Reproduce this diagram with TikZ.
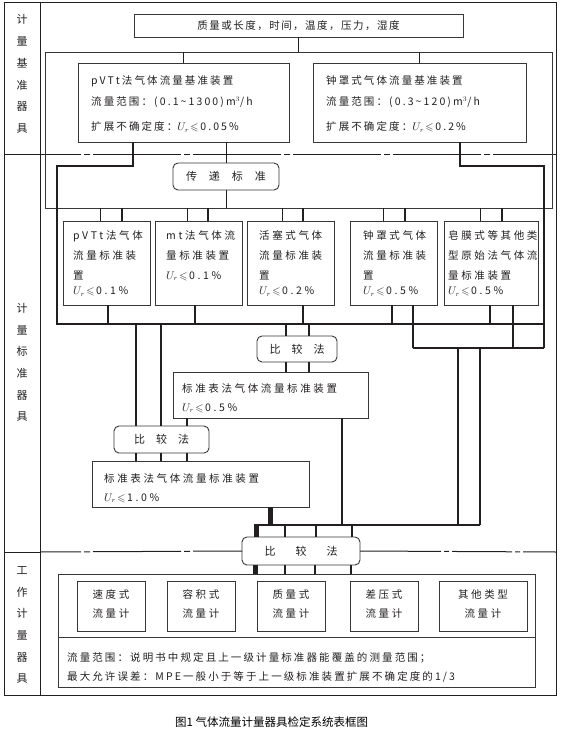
\documentclass[tikz,border=0pt]{standalone}
\usepackage{fontspec}
\usepackage{amssymb}
\setmainfont{Noto Sans CJK SC}
\definecolor{ink}{RGB}{35,31,32}
\definecolor{bd}{RGB}{55,55,55}
\newcommand\Urel{$U_{r}\!\leqslant$\,}
\begin{document}
\begin{tikzpicture}[x=1pt,y=-1pt,line join=miter,
 box/.style={draw=bd,line width=0.9pt,inner sep=0pt,outer sep=0pt},
 rbox/.style={box,rounded corners=5pt,text=ink,font=\fontsize{11}{12}\selectfont},
 thin/.style={draw=ink,line width=0.9pt},
 med/.style={draw=ink,line width=1.4pt},
 thk/.style={draw=ink,line width=2.6pt},
 vthk/.style={draw=ink,line width=5pt},
 frm/.style={draw=ink,line width=1pt},
 dd/.style={dash pattern=on 88pt off 3pt on 6pt off 3pt,dash phase=47pt},
 txt/.style={anchor=north west,inner sep=0pt,align=left,text=ink,font={\fontsize{10.5}{20}\selectfont\addfontfeature{LetterSpace=#1}}},
 ctxt/.style={inner sep=0pt,align=center,text=ink,font={\fontsize{10.5}{19}\selectfont\addfontfeature{LetterSpace=#1}}},
 lab/.style={inner sep=0pt,align=center,text=ink,font={\fontsize{11}{21.7}\selectfont}}]
\useasboundingbox (0,0) rectangle (569,735);

% ---- outer frame and section dividers
\draw[frm] (4,3) rectangle (556,695);
\draw[frm] (40,3) -- (40,695);
\draw[frm] (4,155) -- (40,155);
\draw[frm,dd] (40,155) -- (556,155);
\draw[frm] (4,552) -- (40,552);

% ---- side labels
\node[lab] (L1) at (22,74) {计\\量\\基\\准\\器\\具};
\node[lab] (L2) at (22,362.5) {计\\量\\标\\准\\器\\具};
\node[lab] (L3) at (22,625) {工\\作\\计\\量\\器\\具};

% ---- primary standards
\node[box,minimum width=329pt,minimum height=23pt,text=ink,font={\fontsize{10.5}{12}\selectfont\addfontfeature{LetterSpace=14}}] (top) at (298.5,25.5) {质量或长度，时间，温度，压力，湿度};
\node[draw=bd,line width=0.8pt,inner sep=0pt,outer sep=0pt,minimum width=507pt,minimum height=156pt] (grp) at (298.5,130) {};
\node[box,minimum width=211pt,minimum height=79pt] (pv) at (183.5,102.5) {};
\node[txt=20] (pvt) at (91,75.5) {pVTt法气体流量基准装置\\[0.5pt]流量范围：(0.1\textasciitilde1300)m$^3$/h\\[5.5pt]扩展不确定度：\Urel 0.05\%};
\node[box,minimum width=213pt,minimum height=79pt] (bell) at (419.5,102.5) {};
\node[txt=20] (bellt) at (326,75.5) {钟罩式气体流量基准装置\\[0.5pt]流量范围：(0.3\textasciitilde120)m$^3$/h\\[5.5pt]扩展不确定度：\Urel 0.2\%};
\node[rbox,minimum width=106pt,minimum height=27pt] (tr) at (226,176.5) {传\hspace{12pt}递\hspace{12pt}标\hspace{12pt}准};

% ---- secondary standards
\node[box,minimum width=87pt,minimum height=84pt] (s1) at (106.5,263) {};
\node[box,minimum width=87pt,minimum height=84pt] (s2) at (198.5,263) {};
\node[box,minimum width=87pt,minimum height=84pt] (s3) at (290.5,263) {};
\node[box,minimum width=87pt,minimum height=84pt] (s4) at (393.5,263) {};
\node[box,minimum width=94pt,minimum height=84pt] (s5) at (491,263) {};
\node[txt=25] (s1t) at (73,230) {pVTt法气体\\流量标准装\\置\\[-4.5pt]\Urel 0.1\%};
\node[txt=25] (s2t) at (166,230) {mt法气体流\\量标准装置\\\Urel 0.1\%};
\node[txt=25] (s3t) at (259,230) {活塞式气体\\流量标准装\\置\\[-4.5pt]\Urel 0.2\%};
\node[txt=25] (s4t) at (363,230) {钟罩式气体\\流量标准装\\置\\[-4.5pt]\Urel 0.5\%};
\node[txt=25] (s5t) at (448,230) {皂膜式等其他类\\型原始法气体流\\量标准装置\\[-4.5pt]\Urel 0.5\%};

\node[rbox,minimum width=80pt,minimum height=26pt] (cmpA) at (297,349) {比\hspace{11pt}较\hspace{11pt}法};
\node[box,minimum width=195pt,minimum height=46pt] (m5) at (270.5,395) {};
\node[txt=25] (m5t) at (182,383) {标准表法气体流量标准装置\\[-1pt]\Urel 0.5\%};
\node[rbox,minimum width=95pt,minimum height=27pt] (cmpB) at (161.5,439.5) {比\hspace{11pt}较\hspace{11pt}法};
\node[box,minimum width=217pt,minimum height=46pt] (m10) at (200.5,484) {};
\node[txt=25] (m10t) at (104,473) {标准表法气体流量标准装置\\[-1pt]\Urel 1.0\%};
\node[rbox,minimum width=118pt,minimum height=28pt] (cmpC) at (301,551) {比\hspace{20pt}较\hspace{20pt}法};

\draw[frm,dd] (40,552) -- (cmpC.west);
\draw[frm,dash pattern=on 81pt off 3pt on 5pt off 3pt on 60pt off 3pt on 5pt off 3pt on 200pt off 1pt] (cmpC.east) -- (556,552);

% ---- working instruments
\node[box,minimum width=477pt,minimum height=113pt] (wk) at (296.5,630.5) {};
\draw[box] (wk.west |- 0,637) -- (wk.east |- 0,637);
\node[box,minimum width=68pt,minimum height=50pt] (w1) at (111,606) {};
\node[box,minimum width=68pt,minimum height=50pt] (w2) at (201,606) {};
\node[box,minimum width=68pt,minimum height=50pt] (w3) at (291,606) {};
\node[box,minimum width=68pt,minimum height=50pt] (w4) at (384,606) {};
\node[box,minimum width=88pt,minimum height=50pt] (w5) at (483,606) {};
\node[ctxt=24] (w1t) at (111,604) {速度式\\流量计};
\node[ctxt=24] (w2t) at (201,604) {容积式\\流量计};
\node[ctxt=24] (w3t) at (291,604) {质量式\\流量计};
\node[ctxt=24] (w4t) at (384,604) {差压式\\流量计};
\node[ctxt=24] (w5t) at (483,604) {其他类型\\流量计};
\node[txt=20] (wkt) at (67,652) {流量范围：说明书中规定且上一级计量标准器能覆盖的测量范围；\\[-1pt]最大允许误差：MPE一般小于等于上一级标准装置扩展不确定度的1/3};

% ---- caption
\node[anchor=west,inner sep=0pt,text=black,font=\fontsize{11.5}{13}\selectfont] (cap) at (175,722) {图1 气体流量计量器具检定系统表框图};

% ---- bus coordinates
\coordinate (busL) at (57,324);
\coordinate (busR) at (544,324);
\coordinate (j2L) at (413,348);
\coordinate (j2R) at (544,348);
\coordinate (hL) at (253.5,525);
\coordinate (hR) at (480,525);

% ---- connectors: primary level
\draw[thin] (top.south) -- (top.south |- grp.north);
\draw[thin] (pv.north) -- (pv.north |- grp.north);
\draw[thin] (bell.north) -- (bell.north |- grp.north);
\draw[thin] (tr.north) -- (tr.north |- pv.south);
\draw[thin] (tr.south) -- (tr.south |- grp.south);
\draw[thk] (pv.south -| 133,0) -- (133,166) -| (busL) -- (busR);
\draw[thk] (bell.south -| 460,0) -- (460,166) -| (j2R);

% ---- into secondary standards
\foreach \b/\a/\c in {s1/100/122,s2/187/208,s3/282/303,s4/383/405,s5/480/502}{
  \draw[thin] (grp.south -| \a,0) -- (\b.north -| \a,0);
  \draw[thk] (grp.south -| \c,0) -- (\b.north -| \c,0);
}
% ---- out of secondary standards
\foreach \b/\a in {s1/108,s2/195,s3/303,s4/392,s5/490}{
  \draw[thk] (\b.south -| \a,0) -- (busL -| \a,0);
}
\draw[thk] (s4.south -| 413,0) -- (j2L);
\draw[thk] (s5.south -| 513,0) -- (513,348);
\draw[med] (j2L) -- (j2R);
\draw[thk] (458,348) -- (458,525);
\draw[thk] (480,348) -- (hR);
\draw[med] (hL) -- (hR);

% ---- upper comparison
\draw[thk] (busL -| 286,0) -- (cmpA.north -| 286,0);
\draw[med] (busL -| 309,0) -- (cmpA.north -| 309,0);
\draw[thk] (cmpA.south -| 286,0) -- (m5.north -| 286,0);
\draw[med] (cmpA.south -| 309,0) -- (m5.north -| 309,0);
\draw[thk] (m5.south -| 342,0) -- (342,525);

% ---- lower-left comparison
\draw[thk] (busL -| 136,0) -- (cmpB.north -| 136,0);
\draw[thk] (busL -| 161,0) -- (cmpB.north -| 161,0);
\draw[thk] (m5.south -| 187,0) -- (cmpB.north -| 187,0);
\foreach \a in {136,161,187}{
  \draw[thk] (cmpB.south -| \a,0) -- (m10.north -| \a,0);
}
\draw[vthk] (m10.south -| 270,0) -- (270,525);

% ---- bottom comparison
\draw[vthk] (256,524.3) -- (cmpC.north -| 256,0);
\draw[thk] (285,524.3) -- (cmpC.north -| 285,0);
\draw[thk] (316,524.3) -- (cmpC.north -| 316,0);
\draw[med] (352,524.3) -- (cmpC.north -| 352,0);
\draw[vthk] (cmpC.south -| 255,0) -- (wk.north -| 255,0);
\draw[thk] (cmpC.south -| 285,0) -- (wk.north -| 285,0);
\draw[thk] (cmpC.south -| 315,0) -- (wk.north -| 315,0);
\draw[med] (cmpC.south -| 351,0) -- (wk.north -| 351,0);
\end{tikzpicture}
\end{document}
